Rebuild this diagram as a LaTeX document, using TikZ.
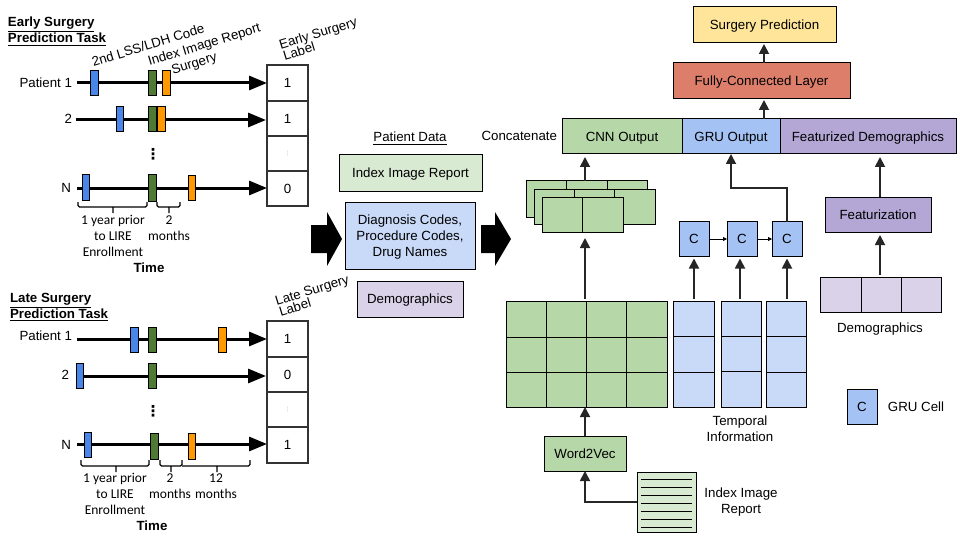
\documentclass[tikz,border=0pt]{standalone}
\usepackage{amsmath,amssymb}
\usepackage{fontspec}
\setmainfont{Liberation Sans}
\newfontfamily\calfont{Carlito}
\newfontfamily\symfont{DejaVu Sans}
\usetikzlibrary{arrows.meta}
\definecolor{mblue}{HTML}{4A86E8}
\definecolor{mgreen}{HTML}{4E7A34}
\definecolor{morange}{HTML}{FF9900}
\definecolor{lgreen}{HTML}{D9EAD3}
\definecolor{cgreen}{HTML}{B6D7A8}
\definecolor{lblue}{HTML}{C9DAF8}
\definecolor{cblue}{HTML}{A4C2F4}
\definecolor{lpurple}{HTML}{D9D2E9}
\definecolor{cpurple}{HTML}{B4A7D6}
\definecolor{cred}{HTML}{DD7E6B}
\definecolor{cyellow}{HTML}{FFE599}
\begin{document}
\begin{tikzpicture}[x=1pt,y=-1pt,every node/.style={font=\fontsize{13.3}{16}\selectfont,align=center,inner sep=0pt,outer sep=0pt,text depth=0pt},
 box/.style={draw,line width=1pt,minimum width=#1},box/.default=100,
 bar/.style={draw,line width=1pt,minimum height=25,minimum width=8},
 cell/.style={draw=black!80,line width=1.6pt,minimum width=41,minimum height=35},
 cc/.style={box=30,fill=cblue,minimum height=35},
 tline/.style={line width=3pt,-{Triangle[length=18pt,width=14pt]}},
 arr/.style={line width=1.8pt,draw=black!85,-{Triangle[length=10pt,width=10pt]}},
 thinarr/.style={line width=0.8pt,-{Triangle[length=4pt,width=4pt]}},
 cal/.style={font=\calfont\fontsize{13.5}{16}\selectfont},
 brc/.style={line width=1.2pt,rounded corners=1.5pt},
 dotsbig/.style={font=\symfont\bfseries\fontsize{15}{16}\selectfont},
 dotssmall/.style={font=\symfont\fontsize{6}{6}\selectfont,text=black!35},
 grd/.style={line width=1pt}]
 \useasboundingbox (0,0) rectangle (960,540);
 % early surgery task
 \node[anchor=west,align=left] (etitle) at (8,30) {\textbf{\underline{Early Surgery}}\\\textbf{\underline{Prediction Task}}};
 \node[rotate=17] (elss) at (148,45) {2nd LSS/LDH Code};
 \node[rotate=17] (eidx) at (204,44) {Index Image Report};
 \node[rotate=17] (esur) at (194,63) {Surgery};
 \node[rotate=17] (elab1) at (318,33) {Early Surgery};
 \node[rotate=17] (elab2) at (299,51) {Label};
 \node[cell,minimum height=36] (ecell1) at (287.5,83) {1};
 \node[cell] (ecell2) at (287.5,118.5) {1};
 \node[cell,dotssmall] (ecell3) at (287.5,153.5) {⋮};
 \node[cell] (ecell4) at (287.5,188.5) {0};
 \node[anchor=east] (ep1) at (72,83) {Patient 1};
 \node[anchor=east] (ep2) at (72,119) {2};
 \node[anchor=east] (ep3) at (71,188) {N};
 \coordinate (es1) at (77,83);
 \coordinate (es2) at (76,120);
 \coordinate (es3) at (77,188);
 \draw[tline] (es1) -- (es1 -| ecell1.west);
 \draw[tline] (es2) -- ([xshift=-1pt]es2 -| ecell2.west);
 \draw[tline] (es3) -- (es3 -| ecell4.west);
 \node[bar,fill=mblue] (eb1) at (94,83.5) {};
 \node[bar,fill=mgreen] (eg1) at (152,83.5) {};
 \node[bar,fill=morange] (eo1) at (166,83.5) {};
 \node[bar,fill=mblue,minimum width=7] (eb2) at (119.5,119.5) {};
 \node[bar,fill=mgreen] (eg2) at (152,119.5) {};
 \node[bar,fill=morange] (eo2) at (161,119.5) {};
 \node[bar,fill=mblue,minimum width=7] (eb3) at (85.5,187.5) {};
 \node[bar,fill=mgreen,minimum height=26] (eg3) at (152,188) {};
 \node[bar,fill=morange,minimum width=7] (eo3) at (191.5,188) {};
 \node[dotsbig] (edots) at (153,154) {⋮};
 \draw[brc] (78,202) -- (78,207) -- (147,207) -- (147,202) (113,207) -- (113,213);
 \draw[brc] (157,202) -- (157,207) -- (180,207) -- (180,202) (169,207) -- (169,213);
 \node[cal] (ey1) at (113,236) {1 year prior\\to LIRE\\Enrollment};
 \node[cal] (ey2) at (169,228) {2\\months};
 \node (etime) at (149,268) {\textbf{Time}};
 % late surgery task
 \node[anchor=west,align=left] (ltitle) at (10,306) {\textbf{\underline{Late Surgery}}\\\textbf{\underline{Prediction Task}}};
 \node[rotate=17] (llab1) at (312,290) {Late Surgery};
 \node[rotate=17] (llab2) at (295,307) {Label};
 \node[cell,minimum height=36] (lcell1) at (287.5,339) {1};
 \node[cell] (lcell2) at (287.5,374.5) {0};
 \node[cell,dotssmall] (lcell3) at (287.5,409.5) {⋮};
 \node[cell,minimum height=36] (lcell4) at (287.5,445) {1};
 \node[anchor=east] (lp1) at (72,336) {Patient 1};
 \node[anchor=east] (lp2) at (69,375) {2};
 \node[anchor=east] (lp3) at (71,445) {N};
 \coordinate (ls1) at (77,339);
 \coordinate (ls2) at (76,376);
 \coordinate (ls3) at (77,444);
 \draw[tline] (ls1) -- (ls1 -| lcell1.west);
 \draw[tline] (ls2) -- ([xshift=-1pt]ls2 -| lcell2.west);
 \draw[tline] (ls3) -- (ls3 -| lcell4.west);
 \node[bar,fill=mblue] (lb1) at (134,339.5) {};
 \node[bar,fill=mgreen] (lg1) at (152,339.5) {};
 \node[bar,fill=morange] (lo1) at (222,339.5) {};
 \node[bar,fill=mblue,minimum width=7] (lb2) at (80,375.5) {};
 \node[bar,fill=mgreen] (lg2) at (152,375.5) {};
 \node[bar,fill=mblue,minimum width=7] (lb3) at (87.5,445) {};
 \node[bar,fill=mgreen,minimum height=26] (lg3) at (154,446) {};
 \node[bar,fill=morange,minimum width=7,minimum height=26] (lo3) at (191.5,446) {};
 \node[dotsbig] (ldots) at (153,411) {⋮};
 \draw[brc] (81,460) -- (81,466) -- (149,466) -- (149,460) (116,466) -- (116,472);
 \draw[brc] (160,460) -- (160,466) -- (182,466) -- (182,460) (171,466) -- (171,472);
 \draw[brc] (182,466) -- (250,466) -- (250,460) (217,466) -- (217,472);
 \node[cal] (ly1) at (115,494) {1 year prior\\to LIRE\\Enrollment};
 \node[cal] (ly2) at (170,486) {2\\months};
 \node[cal] (ly3) at (216,486) {12\\months};
 \node (ltime) at (152,526) {\textbf{Time}};
 % patient data
 \node (pdata) at (410,137) {\underline{Patient Data}};
 \node[box=143,fill=lgreen,minimum height=36] (pimg) at (410.5,173) {Index Image Report};
 \node[box=130,fill=lblue,minimum height=67] (pdiag) at (410,235.5) {Diagnosis Codes,\\Procedure Codes,\\Drug Names};
 \node[box=106,fill=lpurple,minimum height=36] (pdem) at (410,299) {Demographics};
 \fill (311,225) -- (327,225) -- (327,212) -- (342,239) -- (327,266) -- (327,253) -- (311,253) -- cycle;
 \fill (481,225) -- (495,225) -- (495,212) -- (511,239) -- (495,266) -- (495,253) -- (481,253) -- cycle;
 % network
 \node[box=120,fill=cgreen,minimum height=35] (fcnn) at (622,136.5) {CNN Output};
 \node[box=98,fill=cblue,minimum height=35] (fgru) at (731,136.5) {GRU Output};
 \node[box=176,fill=cpurple,minimum height=35] (fdem) at (868,136.5) {Featurized Demographics};
 \node[anchor=east] (fcat) at (557,136) {Concatenate};
 \node[box=177,fill=cred,minimum height=36] (fc) at (761.5,81) {Fully-Connected Layer};
 \node[box=143,fill=cyellow,minimum height=36] (spred) at (764.5,25) {Surgery Prediction};
 \node[box=121,fill=cgreen,minimum height=36] (fr1) at (586.5,199) {};
 \draw[grd] (566,181) -- (566,217) (607,181) -- (607,217);
 \node[box=121,fill=cgreen,minimum height=35] (fr2) at (594.5,206.5) {};
 \draw[grd] (574,189) -- (574,224) (614,189) -- (614,224);
 \node[box=81,fill=cgreen,minimum height=35] (fr3) at (582.5,214.5) {};
 \draw[grd] (582,197) -- (582,232);
 \node[box=161,fill=cgreen,minimum height=106] (wgrid) at (586.5,354) {};
 \draw[grd] (546,301) -- (546,407) (586,301) -- (586,407) (626,301) -- (626,407) (506,337) -- (667,337) (506,372) -- (667,372);
 \node[box=41,fill=lblue,minimum height=106] (t1) at (693.5,354) {};
 \node[box=40,fill=lblue,minimum height=106] (t2) at (741,354) {};
 \node[box=40,fill=lblue,minimum height=106] (t3) at (786,354) {};
 \draw[grd] (673,336) -- (714,336) (673,372) -- (714,372) (721,336) -- (761,336) (721,371) -- (761,371) (766,336) -- (806,336) (766,372) -- (806,372);
 \node[cc] (c1) at (694,239) {C};
 \node[cc] (c2) at (742,239) {C};
 \node[cc] (c3) at (787,239) {C};
 \node[box=106,fill=cpurple,minimum height=35] (feat) at (878,214.5) {Featurization};
 \node[box=121,fill=lpurple,minimum height=35] (dgrid) at (880.5,294.5) {};
 \draw[grd] (861,277) -- (861,312) (901,277) -- (901,312);
 \node (dlab) at (880,328) {Demographics};
 \node (tlab) at (740,429) {Temporal\\Information};
 \node[box=82,fill=cgreen,minimum height=35] (w2v) at (585,453.5) {Word2Vec};
 \node[box=59,fill=lgreen,minimum height=60] (doc) at (666.5,502) {};
 \draw[grd] (641,479) -- (692,479) (641,487) -- (692,487) (641,495) -- (692,495) (641,503) -- (692,503) (641,511) -- (692,511) (641,519) -- (692,519) (641,527) -- (692,527);
 \node (doclab) at (741,501) {Index Image\\Report};
 \node[cc] (cleg) at (862,406.5) {C};
 \node (cleglab) at (916,407) {GRU Cell};
 \coordinate (bendgru) at (731,188);
 \coordinate (w2vin) at (585,502);
 \coordinate (fctop) at (764,63);
 \coordinate (demin) at (880,277);
 \coordinate (featout) at (880,197);
 \draw[arr] (doc.west |- w2vin) -- (w2vin) -- (w2v.south);
 \draw[arr] (w2v.north) -- (w2v.north |- wgrid.south);
 \draw[arr,shorten <=2pt,shorten >=6pt] (w2v.north |- wgrid.north) -- (w2v.north |- fr3.south);
 \draw[arr,shorten >=3pt] (w2v.north |- fr1.north) -- (w2v.north |- fcnn.south);
 \draw[arr,shorten <=2pt,shorten >=2pt] (c1.south |- t1.north) -- (c1.south);
 \draw[arr,shorten <=2pt,shorten >=2pt] (t2.north -| 740,0) -- (c2.south -| 740,0);
 \draw[arr,shorten <=2pt,shorten >=2pt] (t3.north -| c3.south) -- (c3.south);
 \draw[thinarr] (c1) -- (c2);
 \draw[thinarr] (c2) -- (c3);
 \draw[arr] (c3.north) |- (bendgru) -- (fgru.south);
 \draw[arr,shorten >=3pt] (featout) -- (featout |- fdem.south);
 \draw[arr,shorten <=2pt,shorten >=3pt] (demin) -- (demin |- feat.south);
 \draw[arr,shorten >=1pt] (fctop) -- (fctop |- spred.south);
 \draw[arr,shorten >=1pt] (fctop |- fgru.north) -- (fctop |- fc.south);
\end{tikzpicture}
\end{document}
